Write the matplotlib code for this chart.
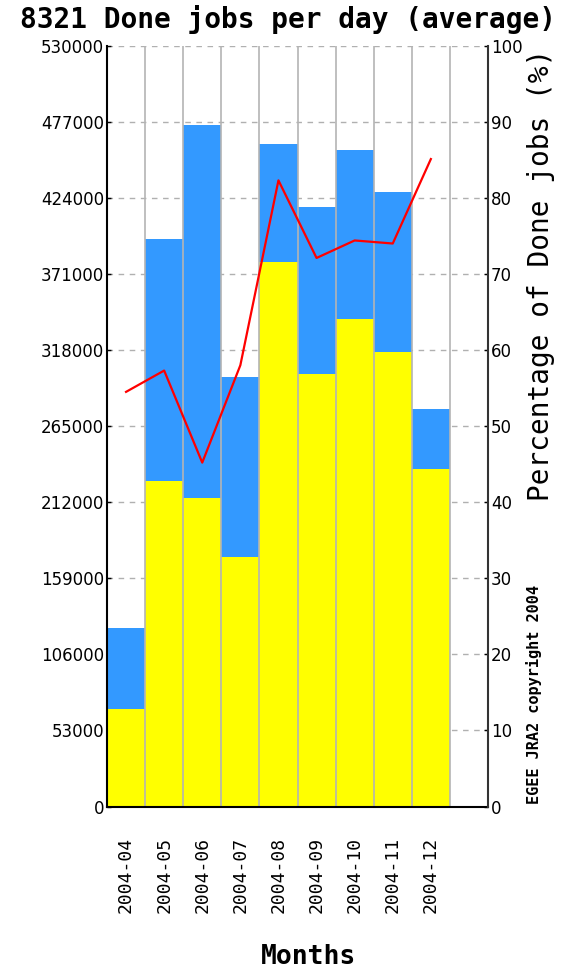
import matplotlib
matplotlib.use("Agg")
import matplotlib.pyplot as plt
import numpy as np

months = ["2004-04", "2004-05", "2004-06", "2004-07", "2004-08",
          "2004-09", "2004-10", "2004-11", "2004-12"]
total_jobs = [124600, 395100, 474700, 299400, 461500, 417400, 457300, 428100, 277100]
done_jobs = [67900, 226700, 214700, 174000, 379100, 301100, 339400, 316800, 234900]
done_pct = [54.5, 57.3, 45.2, 58.0, 82.3, 72.1, 74.4, 74.0, 85.1]
left_ticks = [0, 53000, 106000, 159000, 212000, 265000, 318000, 371000, 424000, 477000, 530000]
right_ticks = [0, 10, 20, 30, 40, 50, 60, 70, 80, 90, 100]

W, H = 567, 974
fig = plt.figure(figsize=(W / 100, H / 100), dpi=100)
ax = fig.add_axes([107 / W, (H - 806.5) / H, (488 - 107) / W, (806.5 - 45.7) / H])

x = np.arange(len(months))
ax.bar(x, total_jobs, width=1.0, color="#3399ff", zorder=2, linewidth=0)
ax.bar(x, done_jobs, width=1.0, color="#ffff00", zorder=2.1, linewidth=0)

ax.set_xlim(-0.5, len(months) + 0.5)
ax.set_ylim(0, 530000)
ax.set_yticks(left_ticks)
ax.set_yticklabels([str(t) for t in left_ticks], fontsize=12, family="DejaVu Sans")
ax.yaxis.grid(True, linestyle=(0, (4, 4)), color="#b0b0b0", linewidth=1, zorder=0)
for b in np.arange(-0.5, len(months) + 1.0, 1.0):
    ax.axvline(b, color="#b4b4b4", linewidth=1.2, zorder=2.5)
ax.set_axisbelow(True)

ax.set_xticks(x)
ax.set_xticklabels(months, rotation=90, fontsize=13, family="DejaVu Sans Mono", va="top")
ax.tick_params(axis="x", length=0, pad=22)
ax.tick_params(axis="y", length=3, width=1, direction="in", pad=2)

for s in ["left", "bottom"]:
    ax.spines[s].set_color("black")
    ax.spines[s].set_linewidth(1.5)
ax.spines["top"].set_visible(False)
ax.spines["right"].set_visible(False)

ax2 = ax.twinx()
ax2.plot(x, done_pct, color="#ff0000", linewidth=1.6, zorder=5)
ax2.set_ylim(0, 100)
ax2.set_yticks(right_ticks)
ax2.set_yticklabels([str(t) for t in right_ticks], fontsize=12, family="DejaVu Sans")
ax2.tick_params(axis="y", length=3, width=1, direction="in", pad=2)
ax2.spines["right"].set_color("#333333")
ax2.spines["right"].set_linewidth(1.5)
for s in ["top", "left", "bottom"]:
    ax2.spines[s].set_visible(False)

fig.text(288 / W, 1 - 20 / H, "8321 Done jobs per day (average)", ha="center", va="center",
         fontsize=20, fontweight="bold", family="DejaVu Sans Mono")
fig.text(541 / W, 1 - 275 / H, "Percentage of Done jobs (%)", rotation=90, ha="center",
         va="center", fontsize=20, family="DejaVu Sans Mono")
fig.text(534 / W, 1 - 695 / H, "EGEE JRA2 copyright 2004", rotation=90, ha="center",
         va="center", fontsize=11, fontweight="bold", family="DejaVu Sans Mono")
fig.text(309 / W, 1 - 957 / H, "Months", ha="center", va="center",
         fontsize=19, fontweight="bold", family="DejaVu Sans Mono")

fig.savefig("out.png", dpi=100, facecolor="white")
